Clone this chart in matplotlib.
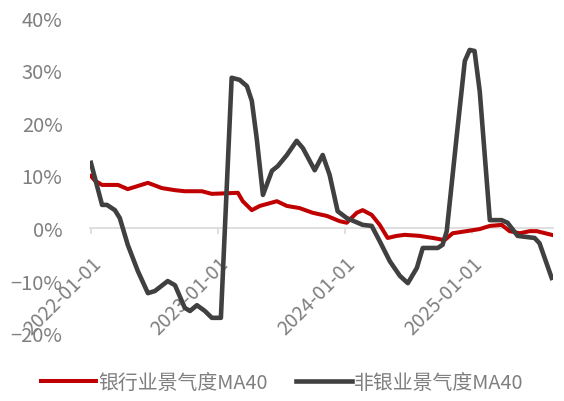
import matplotlib
matplotlib.use('Agg')
import matplotlib.pyplot as plt
import matplotlib.dates as mdates
from matplotlib.ticker import PercentFormatter
import pandas as pd

# 银行业景气度MA40
bank_dates = ['2022-01-01', '2022-01-13', '2022-02-02', '2022-03-20', '2022-04-17',
              '2022-05-16', '2022-06-14', '2022-07-24', '2022-08-31', '2022-09-28',
              '2022-11-16', '2022-12-15', '2023-02-28', '2023-03-14', '2023-04-09',
              '2023-05-02', '2023-06-20', '2023-07-19', '2023-08-24', '2023-10-01',
              '2023-11-11', '2023-12-18', '2024-01-07', '2024-02-05', '2024-02-22',
              '2024-03-19', '2024-04-11', '2024-05-04', '2024-05-30', '2024-06-22',
              '2024-08-04', '2024-09-11', '2024-10-15', '2024-11-07', '2024-12-17',
              '2025-01-24', '2025-02-22', '2025-03-28', '2025-04-20', '2025-05-19',
              '2025-06-17', '2025-07-07', '2025-08-19']
bank_vals = [9.9, 9.0, 8.2, 8.2, 7.4, 8.0, 8.6, 7.6, 7.2, 7.0,
             7.0, 6.5, 6.7, 5.1, 3.4, 4.2, 5.1, 4.2, 3.8, 2.9,
             2.3, 1.3, 1.0, 2.9, 3.4, 2.5, 0.6, -1.9, -1.5, -1.3,
             -1.5, -1.9, -2.3, -1.0, -0.6, -0.2, 0.4, 0.6, -0.6, -1.0,
             -0.6, -0.6, -1.3]

# 非银业景气度MA40
nonbank_dates = ['2022-01-01', '2022-02-02', '2022-02-16', '2022-03-11', '2022-03-25',
                 '2022-04-17', '2022-05-16', '2022-06-14', '2022-07-04', '2022-08-10',
                 '2022-08-31', '2022-09-28', '2022-10-13', '2022-11-02', '2022-11-25',
                 '2022-12-15', '2023-01-10', '2023-02-10', '2023-03-05', '2023-03-26',
                 '2023-04-09', '2023-04-23', '2023-05-11', '2023-06-06', '2023-06-23',
                 '2023-07-19', '2023-08-16', '2023-09-03', '2023-10-07', '2023-10-30',
                 '2023-11-19', '2023-12-12', '2024-01-07', '2024-02-22', '2024-03-19',
                 '2024-04-11', '2024-05-10', '2024-06-08', '2024-07-01', '2024-07-27',
                 '2024-08-13', '2024-09-25', '2024-10-09', '2024-10-21', '2024-11-19',
                 '2024-12-12', '2024-12-26', '2025-01-09', '2025-01-24', '2025-02-22',
                 '2025-03-28', '2025-04-14', '2025-05-13', '2025-07-01', '2025-07-15',
                 '2025-08-19']
nonbank_vals = [12.4, 4.4, 4.4, 3.4, 1.9, -3.2, -8.2, -12.4, -12.0, -10.1,
                -10.9, -15.2, -15.8, -14.7, -15.8, -17.1, -17.1, 28.6, 28.2, 27.0,
                24.2, 17.1, 6.3, 10.9, 11.8, 13.9, 16.6, 15.2, 11.0, 13.9,
                10.1, 3.2, 1.9, 0.6, 0.4, -2.5, -6.3, -9.1, -10.5, -7.6,
                -3.8, -3.8, -3.2, -0.6, 17.7, 31.8, 33.9, 33.7, 26.0, 1.5,
                1.5, 1.0, -1.5, -1.9, -2.9, -9.5]

tick_dates = ['2022-01-01', '2023-01-01', '2024-01-01', '2025-01-01']
y_ticks = [-20, -10, 0, 10, 20, 30, 40]

labels = ['银行业景气度MA40', '非银业景气度MA40']
colors = ['#C00000', '#404040']

plt.rcParams['font.family'] = ['Noto Sans CJK SC', 'DejaVu Sans']

fig = plt.figure(figsize=(5.64, 4.02), dpi=100)
ax = fig.add_axes([0.16, 0.169, 0.82, 0.784])

ax.plot(pd.to_datetime(bank_dates), bank_vals, color=colors[0], lw=2.9,
        label=labels[0], solid_joinstyle='round')
ax.plot(pd.to_datetime(nonbank_dates), nonbank_vals, color=colors[1], lw=3.3,
        label=labels[1], solid_joinstyle='round')

ax.set_ylim(-20, 40)
ax.set_xlim(pd.Timestamp('2021-12-30'), pd.Timestamp('2025-08-22'))
ax.set_yticks(y_ticks)
ax.yaxis.set_major_formatter(PercentFormatter(decimals=0))

for s in ['top', 'right', 'left']:
    ax.spines[s].set_visible(False)
ax.spines['bottom'].set_position(('data', 0))
ax.spines['bottom'].set_color('#d9d9d9')
ax.spines['bottom'].set_linewidth(1.2)
ax.spines['bottom'].set_zorder(0)

ax.set_xticks(pd.to_datetime(tick_dates))
ax.xaxis.set_major_formatter(mdates.DateFormatter('%Y-%m-%d'))
ax.tick_params(axis='x', colors='#d9d9d9', length=4, width=1.2, labelcolor='#7f7f7f',
               labelsize=14, pad=14)
ax.tick_params(axis='y', length=0, labelcolor='#7f7f7f', labelsize=14.5, pad=20)
for lab in ax.get_xticklabels():
    lab.set_rotation(45)
    lab.set_ha('right')
    lab.set_va('top')
    lab.set_rotation_mode('anchor')

fig.legend(loc='center', bbox_to_anchor=(0.5, 0.047), ncol=2, frameon=False,
           fontsize=14.3, handlelength=2.8, handletextpad=0.12, columnspacing=1.4,
           labelcolor='#7f7f7f')

fig.savefig('out.png', dpi=100)
